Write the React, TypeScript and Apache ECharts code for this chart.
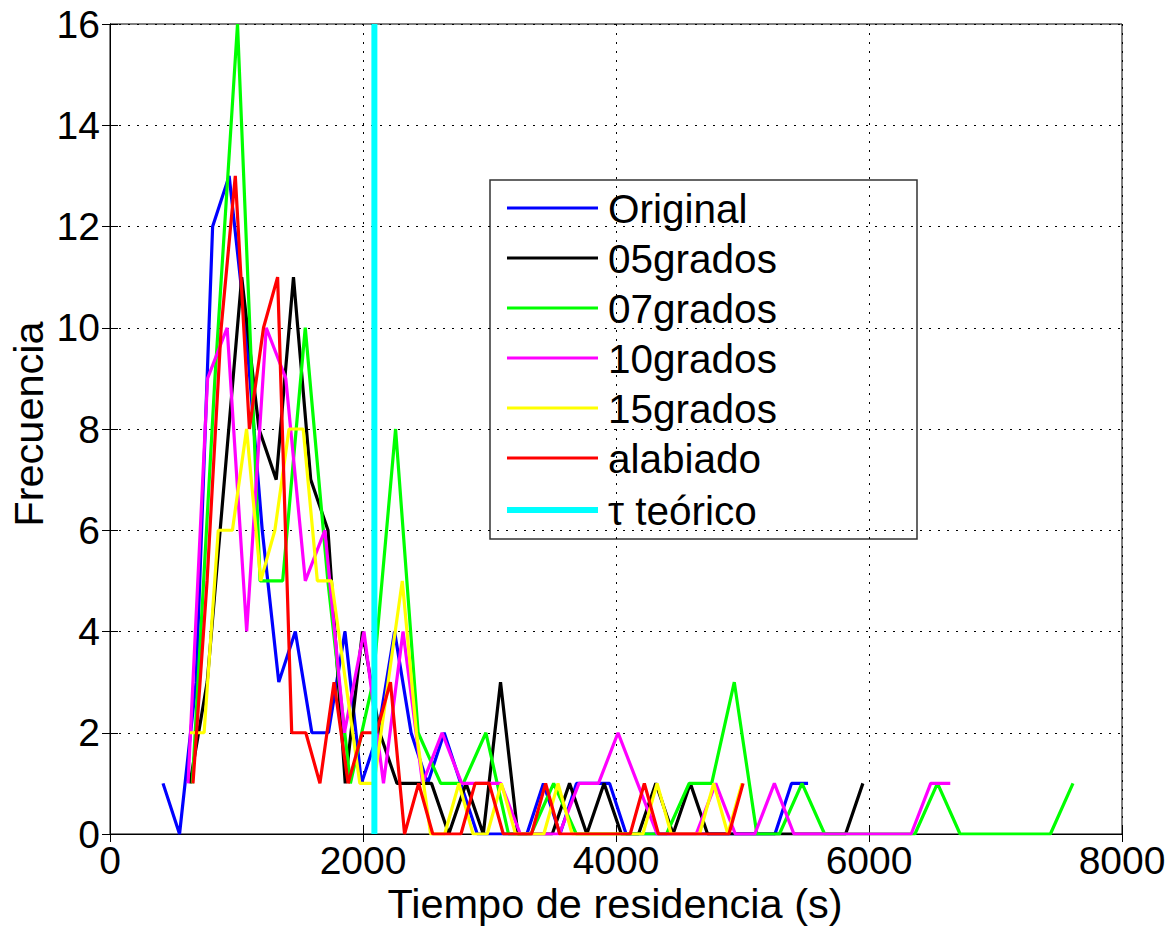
import React, { useEffect, useRef } from "react";
import * as echarts from "echarts";

// ---- data ----
const seriesNames = ["Original", "05grados", "07grados", "10grados", "15grados", "alabiado"];
const seriesColors = ["#0000FF", "#000000", "#00FF00", "#FF00FF", "#FFFF00", "#FF0000"];

// histogram bins: centre of the first bin and bin width (s) for each series
const firstBinCenter = [419, 632, 651, 617, 632, 656];
const binWidth = [130.75, 136.4, 178.5, 154.5, 111.9, 111.5];

const originalCounts = [1, 0, 3, 12, 13, 10, 6, 3, 4, 2, 2, 4, 1, 2, 4, 2, 1, 2, 1, 0, 0, 0, 0, 1, 0, 1, 1, 1, 0, 0, 0, 0, 0, 0, 0, 0, 0, 0, 1, 1];
const grados05Counts = [1, 3, 7, 11, 8, 7, 11, 7, 6, 1, 4, 2, 1, 1, 1, 0, 1, 0, 3, 0, 0, 0, 1, 0, 1, 0, 0, 1, 0, 1, 0, 0, 0, 0, 0, 0, 0, 0, 0, 1];
const grados07Counts = [1, 9, 16, 5, 5, 10, 5, 1, 3, 8, 2, 1, 1, 2, 0, 0, 1, 0, 0, 0, 0, 0, 1, 1, 3, 0, 0, 1, 0, 0, 0, 0, 0, 1, 0, 0, 0, 0, 0, 1];
const grados10Counts = [1, 9, 10, 4, 10, 9, 5, 6, 2, 4, 1, 4, 1, 2, 1, 1, 1, 0, 0, 0, 1, 1, 2, 1, 0, 0, 0, 1, 0, 0, 1, 0, 0, 0, 0, 0, 0, 0, 1, 1];
const grados15Counts = [2, 2, 6, 6, 8, 5, 6, 8, 8, 5, 5, 3, 1, 1, 3, 5, 2, 0, 0, 1, 0, 0, 1, 0, 0, 0, 1, 0, 0, 0, 0, 0, 0, 1, 0, 0, 0, 1, 0, 1];
const alabiadoCounts = [1, 5, 10, 13, 8, 10, 11, 2, 2, 1, 3, 1, 2, 2, 3, 0, 1, 0, 0, 0, 1, 1, 0, 0, 0, 1, 0, 0, 0, 0, 0, 0, 1, 0, 0, 0, 0, 0, 0, 1];
const allCounts = [originalCounts, grados05Counts, grados07Counts, grados10Counts, grados15Counts, alabiadoCounts];

const tauName = "τ teórico";
const tauColor = "#00FFFF";
const tauValue = 2090;

const xTicks = [0, 2000, 4000, 6000, 8000];
const yTicks = [0, 2, 4, 6, 8, 10, 12, 14, 16];
const xTitle = "Tiempo de residencia (s)";
const yTitle = "Frecuencia";

const FONT = "'Liberation Sans', Arial, Helvetica, sans-serif";

function binCenters(first: number, width: number, n: number): number[] {
  const out: number[] = [];
  for (let i = 0; i < n; i++) out.push(first + width * i);
  return out;
}

export default function App() {
  const ref = useRef<HTMLDivElement>(null);

  useEffect(() => {
    if (!ref.current) return;
    const chart = echarts.init(ref.current, undefined, { renderer: "svg" });

    const xMin = xTicks[0];
    const xMax = xTicks[xTicks.length - 1];
    const yMin = yTicks[0];
    const yMax = yTicks[yTicks.length - 1];

    const lineSeries: any[] = seriesNames.map((name, si) => {
      const xs = binCenters(firstBinCenter[si], binWidth[si], allCounts[si].length);
      return {
        name,
        type: "line",
        xAxisIndex: 0,
        yAxisIndex: 0,
        data: allCounts[si].map((c, i) => [xs[i], c]),
        symbol: "none",
        lineStyle: { color: seriesColors[si], width: 3.2 },
        itemStyle: { color: seriesColors[si] },
        z: 2 + si,
      };
    });
    lineSeries.push({
      name: tauName,
      type: "line",
      xAxisIndex: 0,
      yAxisIndex: 0,
      data: [[tauValue, yMin], [tauValue, yMax]],
      symbol: "none",
      lineStyle: { color: tauColor, width: 6 },
      itemStyle: { color: tauColor },
      z: 10,
    });

    // legend drawn with graphic elements
    const legendNames = [...seriesNames, tauName];
    const legendColors = [...seriesColors, tauColor];
    const rowY = [208, 258, 308, 358, 408, 458, 510];
    const legendChildren: any[] = [
      {
        type: "rect",
        shape: { x: 490, y: 180, width: 427, height: 359 },
        style: { fill: "#fff", stroke: "#333", lineWidth: 1.5 },
      },
    ];
    legendNames.forEach((n, i) => {
      legendChildren.push({
        type: "line",
        shape: { x1: 507, y1: rowY[i], x2: 598, y2: rowY[i] },
        style: { stroke: legendColors[i], lineWidth: i === 6 ? 6 : 3.2 },
      });
      legendChildren.push({
        type: "text",
        x: 608,
        y: rowY[i] + 1,
        style: {
          text: n,
          fill: "#000",
          font: `40.5px ${FONT}`,
          textAlign: "left",
          textVerticalAlign: "middle",
        },
      });
    });

    const axisCommon = {
      axisLine: { show: true, lineStyle: { color: "#000", width: 1 } },
      axisTick: { show: true, inside: true, length: 8, lineStyle: { color: "#000" } },
    };

    chart.setOption({
      animation: false,
      backgroundColor: "#fff",
      grid: { left: 110, right: 54, top: 24, bottom: 92, show: true, borderColor: "#000", borderWidth: 1, containLabel: false },
      xAxis: [
        {
          ...axisCommon,
          type: "value",
          position: "bottom",
          min: xMin,
          max: xMax,
          interval: 2000,
          axisLabel: { color: "#000", fontSize: 39, lineHeight: 32, fontFamily: FONT, margin: 10, formatter: (v: number) => String(v) },
          splitLine: { show: true, lineStyle: { color: "#000", width: 1, type: [2, 7] } },
        },
        {
          ...axisCommon,
          type: "value",
          position: "top",
          min: xMin,
          max: xMax,
          interval: 2000,
          axisLabel: { show: false },
          splitLine: { show: false },
        },
      ],
      yAxis: [
        {
          ...axisCommon,
          type: "value",
          position: "left",
          min: yMin,
          max: yMax,
          interval: 2,
          axisLabel: { color: "#000", fontSize: 39, lineHeight: 32, fontFamily: FONT, margin: 10, formatter: (v: number) => String(v) },
          splitLine: { show: true, lineStyle: { color: "#000", width: 1, type: [2, 7] } },
        },
        {
          ...axisCommon,
          type: "value",
          position: "right",
          min: yMin,
          max: yMax,
          interval: 2,
          axisLabel: { show: false },
          splitLine: { show: false },
        },
      ],
      series: lineSeries,
      graphic: [
        {
          type: "text",
          x: 615,
          y: 903,
          style: { text: xTitle, fill: "#000", font: `41.5px ${FONT}`, textAlign: "center", textVerticalAlign: "middle" },
          z: 100,
        },
        {
          type: "text",
          x: 28,
          y: 424,
          rotation: Math.PI / 2,
          style: { text: yTitle, fill: "#000", font: `41.5px ${FONT}`, textAlign: "center", textVerticalAlign: "middle" },
          z: 100,
        },
        { type: "group", children: legendChildren, z: 100 },
      ],
    });

    return () => chart.dispose();
  }, []);

  return (
    <div
      ref={ref}
      style={{ position: "fixed", left: 0, top: 0, width: 1176, height: 926, background: "#fff" }}
    />
  );
}
